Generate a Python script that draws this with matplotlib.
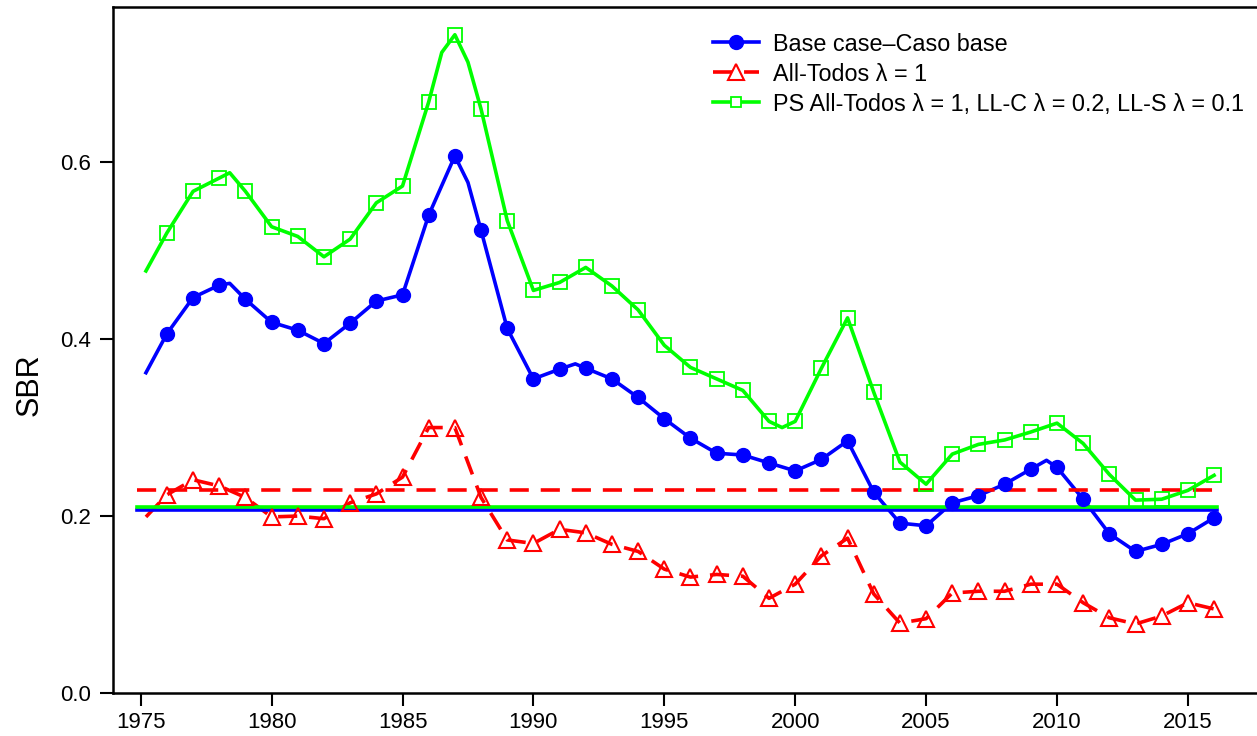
import matplotlib
matplotlib.use("Agg")
import matplotlib.pyplot as plt
import numpy as np

plt.rcParams["font.family"] = ["Liberation Sans", "DejaVu Sans"]

# ── data ──────────────────────────────────────────────────────────────────
years = np.arange(1976, 2017)

base_sbr = [0.406, 0.447, 0.461, 0.445, 0.419, 0.410, 0.395, 0.418, 0.443, 0.450,
            0.540, 0.607, 0.523, 0.412, 0.355, 0.366, 0.367, 0.355, 0.334, 0.310,
            0.288, 0.271, 0.269, 0.260, 0.251, 0.264, 0.285, 0.227, 0.192, 0.189,
            0.215, 0.223, 0.236, 0.253, 0.255, 0.219, 0.180, 0.160, 0.168, 0.180,
            0.198]
all_sbr = [0.224, 0.241, 0.234, 0.221, 0.199, 0.200, 0.197, 0.215, 0.225, 0.244,
           0.300, 0.300, 0.221, 0.173, 0.169, 0.185, 0.181, 0.168, 0.160, 0.140,
           0.131, 0.134, 0.132, 0.107, 0.123, 0.155, 0.175, 0.112, 0.079, 0.084,
           0.113, 0.115, 0.115, 0.123, 0.123, 0.102, 0.085, 0.078, 0.087, 0.102,
           0.095]
ps_sbr = [0.520, 0.567, 0.582, 0.567, 0.527, 0.516, 0.493, 0.513, 0.554, 0.573,
          0.668, 0.744, 0.660, 0.534, 0.455, 0.464, 0.481, 0.460, 0.433, 0.393,
          0.368, 0.355, 0.342, 0.307, 0.307, 0.367, 0.424, 0.340, 0.261, 0.236,
          0.270, 0.281, 0.286, 0.295, 0.305, 0.282, 0.247, 0.218, 0.219, 0.229,
          0.246]

# extra points on the curves between the annual markers
base_extra_x = [1975.2, 1978.4, 1987.5, 1991.6, 2009.6]
base_extra_y = [0.362, 0.463, 0.577, 0.372, 0.263]
all_extra_x = [1975.2]
all_extra_y = [0.199]
ps_extra_x = [1975.2, 1978.4, 1986.5, 1987.5, 1999.5]
ps_extra_y = [0.477, 0.588, 0.724, 0.713, 0.300]

# SBR reference levels
base_ref = 0.207
all_ref = 0.229
ps_ref = 0.210
ref_span = [1974.85, 2016.1]

x_ticks = [1975, 1980, 1985, 1990, 1995, 2000, 2005, 2010, 2015]
y_ticks = [0.0, 0.2, 0.4, 0.6]

labels = ["Base case\u2013Caso base",
          "All-Todos \u03bb = 1",
          "PS All-Todos \u03bb = 1, LL-C \u03bb = 0.2, LL-S \u03bb = 0.1"]


def curve(xa, ya, xb, yb):
    x = np.r_[xa, xb]
    y = np.r_[ya, yb]
    order = np.argsort(x)
    return x[order], y[order]


BLUE, RED, GREEN = "#0000ff", "#ff0000", "#00ff00"
LW = 2.6

fig = plt.figure(figsize=(12.57, 7.36), dpi=100)
ax = fig.add_axes([112.7 / 1257, 43 / 736, 1 - 112.7 / 1257, (736 - 43 - 7.3) / 736])

bx, by = curve(years, base_sbr, base_extra_x, base_extra_y)
rx, ry = curve(years, all_sbr, all_extra_x, all_extra_y)
gx, gy = curve(years, ps_sbr, ps_extra_x, ps_extra_y)

dash = (0, (5.3, 3.3))
ax.plot(bx, by, color=BLUE, lw=LW, solid_joinstyle="round")
ax.plot(rx, ry, color=RED, lw=LW, linestyle=dash, dash_capstyle="butt")
ax.plot(gx, gy, color=GREEN, lw=LW, solid_joinstyle="round")

ax.plot(ref_span, [base_ref] * 2, color=BLUE, lw=LW)
ax.plot(ref_span, [ps_ref] * 2, color=GREEN, lw=LW)
ax.plot(ref_span, [all_ref] * 2, color=RED, lw=LW, linestyle=dash)

ax.plot(years, base_sbr, "o", color=BLUE, ms=10, mec=BLUE)
ax.plot(years, all_sbr, "^", color=RED, ms=12, mfc="none", mew=1.5)
ax.plot(years, ps_sbr, "s", color=GREEN, ms=9.5, mfc="none", mew=1.3)

# legend handles
h1, = ax.plot([], [], color=BLUE, lw=LW, marker="o", ms=10)
h2, = ax.plot([], [], color=RED, lw=LW, linestyle=dash, marker="^", ms=12,
              mfc="white", mew=1.5)
h3, = ax.plot([], [], color=GREEN, lw=LW, marker="s", ms=7.5, mfc="white", mew=1.3)
ax.legend([h1, h2, h3], labels, loc="upper left",
          bbox_to_anchor=(701 / 1257, 1 - 21 / 736), bbox_transform=fig.transFigure,
          frameon=False, fontsize=16.8, handlelength=2.0, handletextpad=0.6,
          labelspacing=0.3, borderpad=0)

ax.set_xlim(1973.93, 2017.64)
ax.set_ylim(0, 0.775)
ax.set_xticks(x_ticks)
ax.set_xticklabels([str(t) for t in x_ticks], fontsize=16)
ax.set_yticks(y_ticks)
ax.set_yticklabels([f"{t:.1f}" for t in y_ticks], fontsize=16)
ax.tick_params(axis="both", direction="out", width=1.5, colors="black")
ax.tick_params(axis="x", length=9, pad=5)
ax.tick_params(axis="y", length=9.5, pad=6)
for side in ["left", "bottom", "top"]:
    ax.spines[side].set_linewidth(1.8)
ax.spines["right"].set_visible(False)

fig.text(30 / 1257, 1 - 385 / 736, "SBR", rotation=90, fontsize=22,
         ha="center", va="center")

fig.savefig("out.png", dpi=100)
